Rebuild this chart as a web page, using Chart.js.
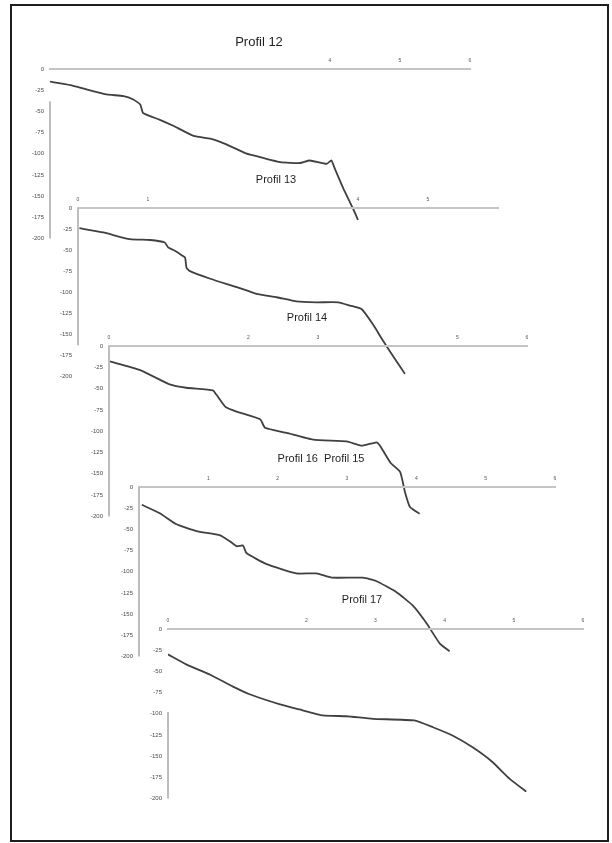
<!DOCTYPE html>
<html>
<head>
<meta charset="utf-8">
<script src="https://cdn.jsdelivr.net/npm/chart.js@4.4.0/dist/chart.umd.min.js"></script>
<style>
  html, body { margin: 0; padding: 0; background: #fff; }
  body { width: 612px; height: 843px; position: relative; overflow: hidden; }
  .sheet { position: absolute; left: 10px; top: 4px; width: 599px; height: 838px;
           border: 2px solid #1e1e1e; box-sizing: border-box; }
  canvas { position: absolute; }
</style>
</head>
<body>
<div class="sheet"></div>
<canvas id="p12" width="460" height="219" style="left:20px;top:29px"></canvas>
<canvas id="p13" width="460" height="218" style="left:48px;top:168px"></canvas>
<canvas id="p14" width="458" height="220" style="left:79px;top:306px"></canvas>
<canvas id="p16" width="456" height="219" style="left:109px;top:447px"></canvas>
<canvas id="p17" width="455" height="219" style="left:138px;top:589px"></canvas>
<script>
// Distance along the profile and depth, one pair of arrays per profile
const profil12Dist  = [0, 0.29, 0.52, 0.81, 1.05, 1.19, 1.29, 1.33, 1.57, 1.76, 2.05, 2.33, 2.52, 2.81, 3.0, 3.29, 3.57, 3.71, 3.95, 4.02, 4.07, 4.19, 4.33, 4.40];
const profil12Depth = [-15, -19, -24, -30, -32, -36, -42, -52, -60, -67, -79, -83, -89, -100, -104, -110, -111, -108, -112, -108, -118, -141, -165, -178];

const profil13Dist  = [0.02, 0.36, 0.74, 1.03, 1.24, 1.29, 1.39, 1.48, 1.53, 1.55, 1.60, 1.89, 2.27, 2.55, 2.84, 3.12, 3.41, 3.72, 3.89, 4.05, 4.22, 4.36, 4.55, 4.67];
const profil13Depth = [-24, -29, -37, -38, -41, -47, -51, -56, -59, -71, -75, -84, -94, -102, -106, -111, -112, -112, -116, -120, -139, -158, -182, -197];

const profil14Dist  = [0.01, 0.44, 0.87, 1.11, 1.49, 1.54, 1.61, 1.68, 1.83, 2.17, 2.24, 2.55, 2.93, 3.41, 3.63, 3.84, 3.89, 4.04, 4.18, 4.25, 4.32, 4.46];
const profil14Depth = [-18, -28, -45, -49, -52, -57, -65, -72, -77, -86, -96, -102, -110, -112, -117, -113, -117, -137, -148, -172, -189, -197];

const profil16Dist  = [0.04, 0.30, 0.54, 0.83, 1.17, 1.31, 1.41, 1.50, 1.55, 1.84, 2.27, 2.56, 2.78, 3.23, 3.42, 3.71, 3.95, 4.14, 4.34, 4.48];
const profil16Depth = [-21, -31, -44, -52, -57, -64, -70, -69, -78, -91, -102, -102, -107, -107, -111, -124, -140, -160, -185, -194];

const profil17Dist  = [0, 0.27, 0.61, 0.94, 1.18, 1.62, 1.90, 2.24, 2.58, 2.96, 3.56, 3.83, 4.12, 4.41, 4.69, 4.94, 5.18];
const profil17Depth = [-30, -42, -54, -68, -77, -89, -95, -102, -103, -106, -108, -116, -126, -140, -157, -177, -192];

// Distance tick labels printed above each axis
const ticks12 = [4, 5, 6];
const ticks13 = [0, 1, 4, 5];
const ticks14 = [0, 2, 3, 5, 6];
const ticks16 = [1, 2, 3, 4, 5, 6];
const ticks17 = [0, 2, 3, 4, 5, 6];

// Depth tick labels
const depthTicks = [0, -25, -50, -75, -100, -125, -150, -175, -200];

const FONT = '"Liberation Sans", Arial, sans-serif';

// Title text placed relative to the plot area, plus a partial vertical axis line
const sheetDecor = {
  id: 'sheetDecor',
  afterDraw(chart, args, opts) {
    const { ctx, chartArea } = chart;
    const ys = chart.scales.y;
    ctx.save();
    ctx.strokeStyle = '#bdbdbd';
    ctx.lineWidth = 2;
    ctx.beginPath();
    ctx.moveTo(chartArea.left, ys.getPixelForValue(opts.axisFrom));
    ctx.lineTo(chartArea.left, ys.getPixelForValue(opts.axisTo));
    ctx.stroke();
    ctx.fillStyle = '#1f1f1f';
    ctx.font = opts.titleSize + 'px ' + FONT;
    ctx.textAlign = 'center';
    ctx.textBaseline = 'middle';
    ctx.fillText(opts.title, chartArea.left + opts.titleX, chartArea.top + opts.titleY);
    ctx.restore();
  }
};

function makeProfile(id, dist, depth, xTicks, decor) {
  const points = dist.map((d, i) => ({ x: d, y: depth[i] }));
  return new Chart(document.getElementById(id), {
    type: 'line',
    data: {
      datasets: [{
        data: points,
        borderColor: '#404040',
        borderWidth: 1.8,
        pointRadius: 0,
        tension: 0.15,
        fill: false
      }]
    },
    options: {
      responsive: false,
      animation: false,
      layout: { padding: { top: 28, left: 0, right: 10, bottom: 8 } },
      plugins: {
        legend: { display: false },
        title: { display: false },
        tooltip: { enabled: false },
        sheetDecor: decor
      },
      scales: {
        x: {
          type: 'linear',
          position: 'top',
          min: 0,
          max: 6,
          afterFit(scale) { scale.height = 12; },
          grid: { display: false, drawTicks: false },
          border: { display: true, color: '#c4c4c4', width: 2 },
          ticks: {
            stepSize: 1,
            padding: 5,
            color: '#555',
            font: { size: 5, family: FONT },
            maxRotation: 0,
            autoSkip: false,
            callback: v => (xTicks.includes(v) ? String(v) : '')
          }
        },
        y: {
          type: 'linear',
          min: -200,
          max: 0,
          afterFit(scale) { scale.width = 30; },
          afterBuildTicks(scale) { scale.ticks = depthTicks.map(v => ({ value: v })); },
          grid: { display: false, drawTicks: false },
          border: { display: false },
          ticks: {
            padding: 6,
            color: '#4a4a4a',
            font: { size: 6, family: FONT },
            autoSkip: false,
            callback: v => String(v)
          }
        }
      }
    },
    plugins: [sheetDecor]
  });
}

makeProfile('p12', profil12Dist, profil12Depth, ticks12,
  { title: 'Profil 12', titleSize: 13, titleX: 209, titleY: -27, axisFrom: -38, axisTo: -200 });
makeProfile('p13', profil13Dist, profil13Depth, ticks13,
  { title: 'Profil 13', titleSize: 11, titleX: 198, titleY: -28, axisFrom: 0, axisTo: -163 });
makeProfile('p14', profil14Dist, profil14Depth, ticks14,
  { title: 'Profil 14', titleSize: 11, titleX: 198, titleY: -28, axisFrom: 0, axisTo: -200 });
makeProfile('p16', profil16Dist, profil16Depth, ticks16,
  { title: 'Profil 16  Profil 15', titleSize: 11, titleX: 182, titleY: -28, axisFrom: 0, axisTo: -200 });
makeProfile('p17', profil17Dist, profil17Depth, ticks17,
  { title: 'Profil 17', titleSize: 11, titleX: 194, titleY: -29, axisFrom: -98, axisTo: -200 });
</script>
</body>
</html>
